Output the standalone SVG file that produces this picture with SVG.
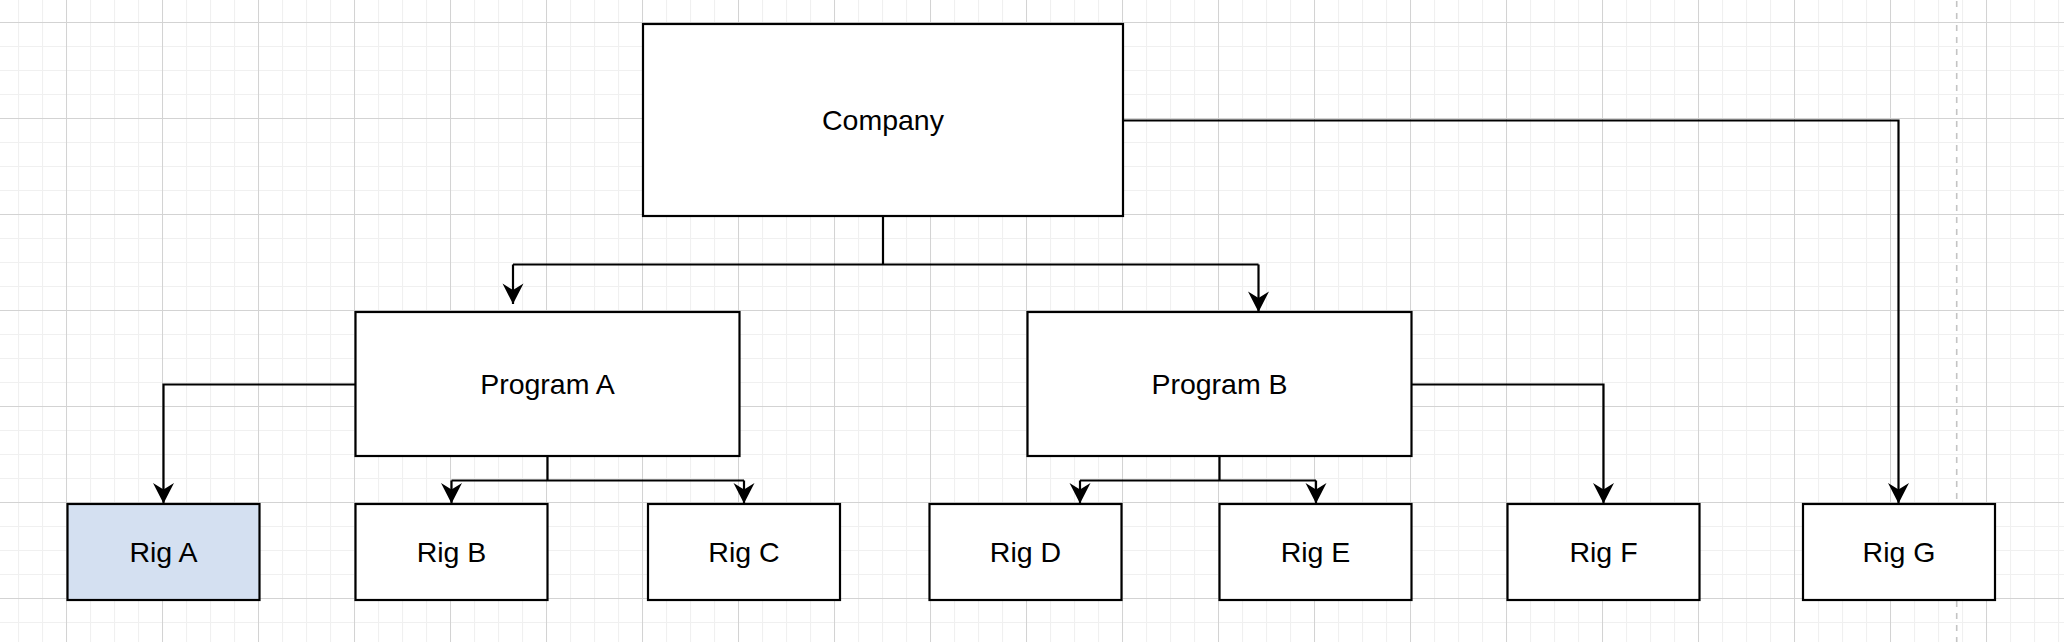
<svg xmlns="http://www.w3.org/2000/svg" width="2064" height="642" viewBox="0 0 2064 642">
  <defs>
    <pattern id="minorGrid" patternUnits="userSpaceOnUse" x="18" y="22" width="24" height="24">
      <path d="M0.5 0 V24 M0 0.5 H24" fill="none" stroke="#f0f0f0" stroke-width="1.2"/>
    </pattern>
    <pattern id="majorGrid" patternUnits="userSpaceOnUse" x="66" y="22" width="96" height="96">
      <path d="M0.5 0 V96 M0 0.5 H96" fill="none" stroke="#d3d3d3" stroke-width="1"/>
    </pattern>
    <marker id="arrow" markerUnits="userSpaceOnUse" markerWidth="24" markerHeight="24" viewBox="-21 -12 24 24" refX="0" refY="0" orient="auto">
      <path d="M0 0 L-20.5 -10.5 L-14 0 L-20.5 10.5 Z" fill="#000"/>
    </marker>
    <style>
      .box { stroke: #000; stroke-width: 2.2; fill: #fff; }
      .hl { fill: #d4e0f1; }
      .lbl { font-family: "Liberation Sans", Arial, Helvetica, sans-serif; font-size: 28.5px; fill: #000; text-anchor: middle; }
      .edge { fill: none; stroke: #000; stroke-width: 2.2; marker-end: url(#arrow); }
      .edge0 { fill: none; stroke: #000; stroke-width: 2.2; }
    </style>
  </defs>

  <rect x="0" y="0" width="2064" height="642" fill="#fff"/>
  <rect x="0" y="0" width="2064" height="642" fill="url(#minorGrid)"/>
  <rect x="0" y="0" width="2064" height="642" fill="url(#majorGrid)"/>
  <line x1="1956.7" y1="0" x2="1956.7" y2="642" stroke="#c4c4c4" stroke-width="1.6" stroke-dasharray="6 6" stroke-dashoffset="-1"/>

  <g id="connectors">
    <path class="edge0" d="M883 216 V264.5 M513 264.5 H1258.5"/>
    <path class="edge" d="M513 264.5 V304"/>
    <path class="edge" d="M1258.5 264.5 V312"/>
    <path class="edge" d="M1123 120.5 H1898.5 V503.5"/>
    <path class="edge" d="M355.5 384.5 H163.5 V503.5"/>
    <path class="edge0" d="M547.5 456 V480.5 M451.5 480.5 H744"/>
    <path class="edge" d="M451.5 480.5 V503.5"/>
    <path class="edge" d="M744 480.5 V503.5"/>
    <path class="edge0" d="M1219.5 456 V480.5 M1080 480.5 H1316"/>
    <path class="edge" d="M1080 480.5 V503.5"/>
    <path class="edge" d="M1316 480.5 V503.5"/>
    <path class="edge" d="M1411.5 384.5 H1603.5 V503.5"/>
  </g>

  <g id="company">
    <rect class="box" x="643" y="24" width="480" height="192"/>
    <text class="lbl" x="883" y="130">Company</text>
  </g>
  <g id="programA">
    <rect class="box" x="355.5" y="312" width="384" height="144"/>
    <text class="lbl" x="547.5" y="394">Program A</text>
  </g>
  <g id="programB">
    <rect class="box" x="1027.5" y="312" width="384" height="144"/>
    <text class="lbl" x="1219.5" y="394">Program B</text>
  </g>
  <g id="rigA">
    <rect class="box hl" x="67.5" y="504" width="192" height="96"/>
    <text class="lbl" x="163.5" y="562">Rig A</text>
  </g>
  <g id="rigB">
    <rect class="box" x="355.5" y="504" width="192" height="96"/>
    <text class="lbl" x="451.5" y="562">Rig B</text>
  </g>
  <g id="rigC">
    <rect class="box" x="648" y="504" width="192" height="96"/>
    <text class="lbl" x="744" y="562">Rig C</text>
  </g>
  <g id="rigD">
    <rect class="box" x="929.5" y="504" width="192" height="96"/>
    <text class="lbl" x="1025.5" y="562">Rig D</text>
  </g>
  <g id="rigE">
    <rect class="box" x="1219.5" y="504" width="192" height="96"/>
    <text class="lbl" x="1315.5" y="562">Rig E</text>
  </g>
  <g id="rigF">
    <rect class="box" x="1507.5" y="504" width="192" height="96"/>
    <text class="lbl" x="1603.5" y="562">Rig F</text>
  </g>
  <g id="rigG">
    <rect class="box" x="1803" y="504" width="192" height="96"/>
    <text class="lbl" x="1899" y="562">Rig G</text>
  </g>
</svg>
